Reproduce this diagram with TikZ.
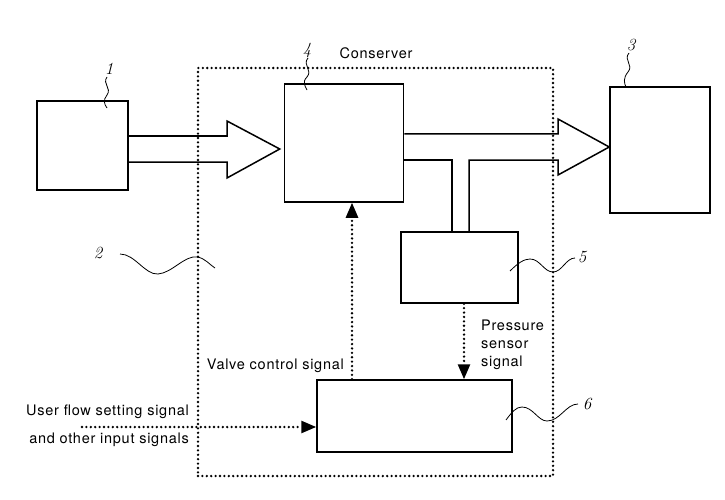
\documentclass[tikz,border=0pt]{standalone}
\usepackage{fontspec}
\setsansfont[LetterSpace=5]{TeX Gyre Heros}
\usepackage{tikz}
\usetikzlibrary{arrows.meta,positioning,calc}
\tikzstyle{block} = [rectangle, draw, line width=1.5pt, inner sep=0pt]
\tikzstyle{frame} = [draw, line width=2.6pt, dash pattern=on 0pt off 4.4pt, line cap=round]
\tikzstyle{sig} = [draw, line width=2.6pt, dash pattern=on 0pt off 4.4pt, line cap=round, -{Triangle[length=15pt,width=12pt]}]
\tikzstyle{pipe} = [draw, line width=1.5pt, line join=miter]
\tikzstyle{wave} = [draw, line width=0.8pt]
\tikzstyle{txt} = [font=\fontsize{14.5}{18}\sffamily, inner sep=0pt]
\tikzstyle{num} = [font=\fontsize{17}{17}\selectfont\itshape, inner sep=0pt]

\begin{document}
\begin{tikzpicture}[x=1pt, y=-1pt]
	\useasboundingbox (0,0) rectangle (725,500);
	
	% Conserver frame
	\node [frame, minimum width=355pt, minimum height=408pt] (cons) at (375.5,272) {};
	\node [txt] (ctitle) at (376,53) {Conserver};
	
	% Blocks
	\node [block, minimum width=91pt, minimum height=89pt] (b1) at (82.5,145.5) {};
	\node [block, minimum width=119pt, minimum height=118pt] (b4) at (344,143) {};
	\node [block, minimum width=100pt, minimum height=126pt] (b3) at (660,150) {};
	\node [block, minimum width=117pt, minimum height=71pt] (b5) at (459.5,267.5) {};
	\node [block, minimum width=195pt, minimum height=72pt] (b6) at (414.5,416) {};
	
	% Texts
	\node [txt, anchor=east] (valve) at (344,366) {Valve control signal};
	\node [txt, anchor=west, align=left] (press) at (481,345) {Pressure\\sensor\\signal};
	\node [txt, anchor=east, align=right, font=\fontsize{14.5}{28}\sffamily] (user) at (189,426) {User flow setting signal\\and other input signals};
	\coordinate (usr) at (82,427);
	
	% Flow arrows
	\path [pipe] (b1.east |- 0,136) -- (227,136) -- (227,121) -- ([xshift=-4pt]b4.west |- 0,149) -- (227,178) -- (227,162) -- (b1.east |- 0,162);
	\path [pipe] (b4.east |- 0,134) -- (558,134) -- (558,119) -- (b3.west |- 0,147) -- (558,175) -- (558,160) -- (469,160) -- (b5.north -| 469,0);
	\path [pipe] (b4.east |- 0,160) -- (452,160) -- (b5.north -| 452,0);
	
	% Draw signals
	\path [sig] (b6.north -| 352,0) -- (b4.south -| 352,0);
	\path [sig] (b5.south -| 464,0) -- (b6.north -| 464,0);
	\path [sig] (usr) -- (b6.west |- usr);
	
	% Reference numbers
	\node [num] (n1) at (109,69) {1};
	\path [wave] (107,77) .. controls (102,84) and (112,88) .. (107,95) .. controls (103,100) and (104,104) .. (107,108);
	\node [num] (n4) at (307,50) {4};
	\path [wave] (308,58) .. controls (302,65) and (313,70) .. (307,77) .. controls (302,82) and (305,86) .. (307,90);
	\node [num] (n3) at (631,45) {3};
	\path [wave] (629,53) .. controls (623,60) and (634,65) .. (628,72) .. controls (623,78) and (624,83) .. (626,87);
	\node [num] (n2) at (98,253) {2};
	\path [wave] (120,254) .. controls (135,254) and (145,275) .. (158,274) .. controls (172,273) and (185,255) .. (197,257) .. controls (205,258) and (210,265) .. (215,268);
	\node [num] (n5) at (582,257) {5};
	\path [wave] (510,271) .. controls (518,263) and (524,259) .. (530,259) .. controls (540,259) and (544,272) .. (553,272) .. controls (562,272) and (566,258) .. (575,258);
	\node [num] (n6) at (587,404) {6};
	\path [wave] (506,420) .. controls (512,412) and (516,407) .. (522,407) .. controls (533,407) and (538,421) .. (547,421) .. controls (560,421) and (566,404) .. (578,404);
	
\end{tikzpicture}
\end{document}
